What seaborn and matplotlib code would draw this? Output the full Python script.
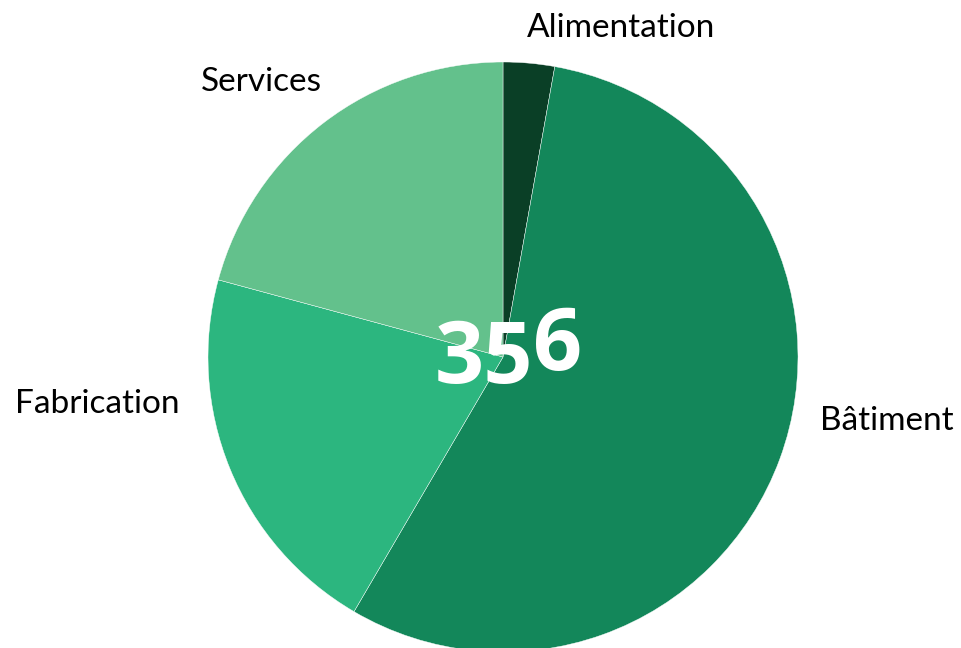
"""
Pie chart of the number of companies by sector, with the total in the middle.
"""

import matplotlib.pyplot as plt
import seaborn as sns

sectors = ["Alimentation", "Bâtiment", "Fabrication", "Services"]
counts = [10, 198, 74, 74]
colors = ["#0a3f26", "#13875a", "#2cb67f", "#63c18c"]

# label anchor points, in pixels from the top left of the image
label_pos = {
    "Alimentation": (621, 28),
    "Bâtiment": (887, 421),
    "Fabrication": (97, 404),
    "Services": (261, 82),
}

W, H = 961, 648
CX, CY, R = 503, 357, 295  # pie centre and radius in pixels


def px(x, y):
    """Pixel position -> data coordinates (pie radius = 1)."""
    return (x - CX) / R, (CY - y) / R


sns.set_theme(style="white")
plt.rcParams["font.family"] = ["Lato", "DejaVu Sans"]

fig = plt.figure(figsize=(W / 100, H / 100), dpi=100)
ax = fig.add_axes([0, 0, 1, 1])
ax.axis("off")

wedges, texts = ax.pie(
    counts,
    labels=sectors,
    colors=colors,
    startangle=90,
    counterclock=False,
    radius=1,
    wedgeprops=dict(edgecolor="white", linewidth=0.3),
    textprops=dict(fontsize=24, color="black"),
)
ax.set_aspect("equal")
ax.set_xlim(-CX / R, (W - CX) / R)
ax.set_ylim(-(H - CY) / R, CY / R)

for t in texts:
    t.set_position(px(*label_pos[t.get_text()]))
    t.set_ha("center")
    t.set_va("center")

# total in the centre; the last digit sits a little higher, as in the source
total = str(sum(counts))
ax.text(*px(484, 383), total[:-1], fontsize=62, fontweight="bold",
        color="white", ha="center", va="baseline", family="Open Sans")
ax.text(*px(558, 370), total[-1], fontsize=62, fontweight="bold",
        color="white", ha="center", va="baseline", family="Open Sans")

fig.savefig("out.png", dpi=100)
